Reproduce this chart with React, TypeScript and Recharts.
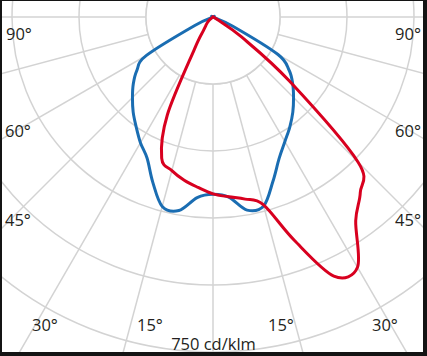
import React from "react";
import {
  RadarChart, Radar, PolarGrid, PolarAngleAxis, PolarRadiusAxis, Customized,
} from "recharts";

// Curva fotométrica (cd/klm). Ángulo gamma cada 5°: 0 = abajo, crece hacia la derecha (sentido antihorario).
const GAMMA = Array.from({ length: 72 }, (_, i) => i * 5);

// Plano C0-C180 (azul)
const PLANE_C0 = [
  397, 405, 439, 438, 392, 350, 322, 300, 278, 255, 233, 208,
  168, 49, 0, 0, 0, 0, 0, 0, 0, 0, 0, 0,
  0, 0, 0, 0, 0, 0, 0, 0, 0, 0, 0, 0,
  0, 0, 0, 0, 0, 0, 0, 0, 0, 0, 0, 0,
  0, 0, 0, 0, 0, 0, 0, 0, 0, 0, 0, 45,
  172, 208, 233, 255, 278, 300, 325, 349, 394, 439, 440, 406,
];

// Plano C90-C270 (rojo, asimétrico)
const PLANE_C90 = [
  396, 404, 414, 435, 532, 640, 647, 557, 513, 459, 224, 78,
  11, 0, 0, 0, 0, 0, 0, 0, 0, 0, 0, 0,
  0, 0, 0, 0, 0, 0, 0, 0, 0, 0, 0, 0,
  0, 0, 0, 0, 0, 0, 0, 0, 0, 0, 0, 0,
  0, 0, 0, 0, 0, 0, 0, 0, 0, 0, 0, 0,
  0, 0, 11, 18, 25, 38, 83, 242, 336, 356, 371, 383,
];

const RING_VALUES = [150, 300, 450, 600, 750];
const GRID_ANGLES = Array.from({ length: 24 }, (_, i) => i * 15);

const data = GAMMA.map((g, i) => ({ gamma: g, c0: PLANE_C0[i], c90: PLANE_C90[i] }));

// geometría
const W = 421, H = 351;
const CX = 211, CY = 16;
const RING = 67; // px por anillo (150 cd/klm)
const MAX_V = 1000;
const OUTER = (MAX_V / 150) * RING;
const GRID = "#d3d3d3";
const BLUE = "#1a6db2";
const RED = "#d8001f";

// Catmull-Rom cerrado sobre los puntos que calcula Recharts
function smoothPath(pts: { x: number; y: number }[]) {
  const n = pts.length;
  let d = `M${pts[0].x},${pts[0].y}`;
  for (let i = 0; i < n; i++) {
    const p0 = pts[(i - 1 + n) % n], p1 = pts[i], p2 = pts[(i + 1) % n], p3 = pts[(i + 2) % n];
    const c1x = p1.x + (p2.x - p0.x) / 6, c1y = p1.y + (p2.y - p0.y) / 6;
    const c2x = p2.x - (p3.x - p1.x) / 6, c2y = p2.y - (p3.y - p1.y) / 6;
    d += ` C${c1x},${c1y} ${c2x},${c2y} ${p2.x},${p2.y}`;
  }
  return d + "Z";
}
const curve = (color: string) => (props: any) => (
  <path d={smoothPath(props.points)} fill="none" stroke={color} strokeWidth={3} strokeLinejoin="round" />
);

const TXT = { fontFamily: "'Open Sans', sans-serif", fontSize: 16.5, fill: "#231f20" } as const;

export default function App() {
  return (
    <div style={{ position: "absolute", left: 0, top: 0, width: 427, height: 356, background: "#141414" }}>
      <div style={{ position: "absolute", left: 2, top: 1, width: W, height: H, background: "#fff" }}>
        <RadarChart width={W} height={H} data={data} cx={CX} cy={CY} outerRadius={OUTER}
          startAngle={-90} endAngle={270} margin={{ top: 0, right: 0, bottom: 0, left: 0 }}>
          <PolarGrid gridType="circle" stroke={GRID} strokeWidth={1.5}
            polarRadius={RING_VALUES.map((v) => (v / 150) * RING)} polarAngles={GRID_ANGLES} />
          <Customized component={() => <circle cx={CX} cy={CY} r={RING} fill="#fff" stroke={GRID} strokeWidth={1.5} />} />
          <PolarAngleAxis dataKey="gamma" type="number" domain={[0, 360]} tick={false} tickLine={false} axisLine={false} />
          <PolarRadiusAxis domain={[0, MAX_V]} tickCount={5} tick={false} axisLine={false} />
          <Radar dataKey="c0" stroke={BLUE} fill="none" isAnimationActive={false} shape={curve(BLUE)} />
          <Radar dataKey="c90" stroke={RED} fill="none" isAnimationActive={false} shape={curve(RED)} />
        </RadarChart>
      </div>
      <svg width={427} height={356} style={{ position: "absolute", left: 0, top: 0, pointerEvents: "none" }}>
        <text x={6} y={40} {...TXT}>90°</text>
        <text x={421} y={40} textAnchor="end" {...TXT}>90°</text>
        <text x={5} y={137} {...TXT}>60°</text>
        <text x={421} y={137} textAnchor="end" {...TXT}>60°</text>
        <text x={5} y={226} {...TXT}>45°</text>
        <text x={421} y={226} textAnchor="end" {...TXT}>45°</text>
        <text x={32} y={331} {...TXT}>30°</text>
        <text x={137} y={331} {...TXT}>15°</text>
        <text x={268} y={331} {...TXT}>15°</text>
        <text x={372} y={331} {...TXT}>30°</text>
        <text x={213.5} y={350} textAnchor="middle" {...TXT}>750 cd/klm</text>
      </svg>
    </div>
  );
}
